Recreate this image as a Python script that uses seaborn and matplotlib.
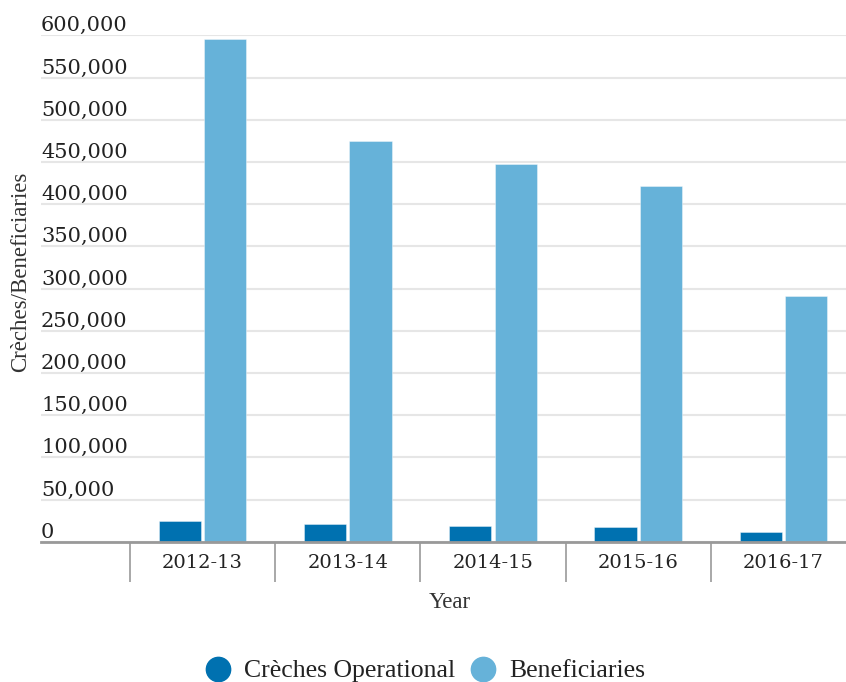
import matplotlib
matplotlib.use("Agg")
import matplotlib.pyplot as plt
from matplotlib.lines import Line2D
from matplotlib.ticker import FixedLocator
import seaborn as sns
import pandas as pd

years = ["2012-13", "2013-14", "2014-15", "2015-16", "2016-17"]
creches_operational = [24500, 20500, 18600, 17000, 11900]
beneficiaries = [595100, 475000, 447500, 421400, 291500]
series_names = ["Crèches Operational", "Beneficiaries"]
y_ticks = [0, 50000, 100000, 150000, 200000, 250000, 300000,
           350000, 400000, 450000, 500000, 550000, 600000]

dark_blue = "#0071B0"
light_blue = "#66B2D9"

df = pd.DataFrame({
    "Year": years * 2,
    "Series": [series_names[0]] * len(years) + [series_names[1]] * len(years),
    "Value": creches_operational + beneficiaries,
})

sns.set_theme(style="white")
plt.rcParams["font.family"] = ["DejaVu Serif"]

fig = plt.figure(figsize=(8.46, 6.82), dpi=100)
W, H = 846, 682
ax_left, ax_right, ax_bottom, ax_top = 41, 846, 541.7, 35.3
ax = fig.add_axes([ax_left / W, (H - ax_bottom) / H,
                   (ax_right - ax_left) / W, (ax_bottom - ax_top) / H])

sns.barplot(data=df, x="Year", y="Value", hue="Series", order=years,
            hue_order=series_names, palette=[dark_blue, light_blue],
            saturation=1, width=0.625, gap=0.07, ax=ax, legend=False,
            edgecolor=(1, 1, 1, 0.45), linewidth=0.6, zorder=3)

ax.set_ylim(0, 600000)
ax.set_xlim(-1.113, 4.431)

# y axis: labels inside, above gridlines
ax.set_yticks(y_ticks)
ax.set_yticklabels([f"{v:,}" for v in y_ticks])
ax.tick_params(axis="y", left=False, length=0, pad=0, labelsize=15,
               labelcolor="#222222")
for lab in ax.get_yticklabels():
    lab.set_horizontalalignment("left")
    lab.set_verticalalignment("bottom")
ax.yaxis.grid(True, color="#e6e6e6", linewidth=1.5, zorder=0)
ax.set_axisbelow(True)

# x axis: category labels with separator ticks at boundaries
ax.set_xticks(range(len(years)))
ax.set_xticklabels(years)
ax.xaxis.set_minor_locator(FixedLocator([i - 0.5 for i in range(len(years) + 1)]))
ax.tick_params(axis="x", which="major", bottom=False, length=0, pad=9,
               labelsize=14, labelcolor="#222222")
ax.tick_params(axis="x", which="minor", bottom=True, length=29, width=1.2,
               color="#999999", direction="out")

for s in ["top", "right", "left"]:
    ax.spines[s].set_visible(False)
ax.spines["bottom"].set_color("#999999")
ax.spines["bottom"].set_linewidth(2)
ax.spines["bottom"].set_zorder(4)

label_font = dict(family=["Liberation Serif", "DejaVu Serif"], size=16.5, color="#333333")
ax.set_ylabel("Crèches/Beneficiaries", **label_font)
ax.yaxis.set_label_coords((31 - ax_left) / (ax_right - ax_left),
                          (ax_bottom - 272) / (ax_bottom - ax_top))
ax.set_xlabel("Year", **label_font)
ax.xaxis.set_label_coords((450 - ax_left) / (ax_right - ax_left),
                          -(592 - ax_bottom) / (ax_bottom - ax_top))

handles = [Line2D([0], [0], marker="o", linestyle="none", markersize=17.5,
                  markerfacecolor=c, markeredgecolor=c)
           for c in [dark_blue, light_blue]]
fig.legend(handles, series_names, loc="center", ncol=2,
           bbox_to_anchor=(424 / W, (H - 671) / H), frameon=False,
           prop=dict(family=["Liberation Serif", "DejaVu Serif"], size=18.5),
           handletextpad=0.4, columnspacing=0.5, handlelength=1.2,
           labelcolor="#222222")

fig.savefig("out.png", dpi=100)
